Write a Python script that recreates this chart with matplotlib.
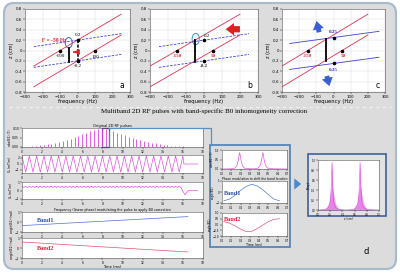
import matplotlib
matplotlib.use("Agg")
import matplotlib.pyplot as plt
import numpy as np
from matplotlib.patches import FancyBboxPatch, Rectangle, Ellipse

W, H = 400, 274

# ---- top panels: frequency vs z ----
panel_letters = ["a", "b", "c"]
red_zero_freqs = [[-100, 100], [-150, 50], [-150, 50]]
red_spans = [[-250, 250], [-300, 200], [-300, 200]]
red_slope = 0.002
blue_z0 = [[0.2, -0.2], [0.2, -0.2], [0.25, -0.25]]
blue_slopes = [0.0005, 0.0005, 0.00045]
blue_spans = [[-250, 250], [-250, 250], [-255, 265]]
blue_styles = ["--", "--", "-"]
bar_freq = [-50, -50, -45]
bar_lo = [-0.22, -0.22, -0.2]
bar_hi = [0.05, 0.2, 0.22]
dots_f = [[-100, 100, 0, 0], [-150, 50, 0, 0], [-150, 50, 0, 0]]
dots_z = [[0, 0, 0.2, -0.2], [0, 0, 0.2, -0.2], [0, 0, 0.25, -0.25]]
label_text = [["-100", "100", "0.2", "-0.2"], ["-150", "50", "0.2", "-0.2"],
              ["-150", "50", "0.25", "0.25"]]
label_f = [[-95, 105, 0, 0], [-150, 52, 18, 0], [-150, 55, 0, 0]]
label_z = [[-0.1, -0.12, 0.29, -0.3], [-0.1, -0.1, 0.28, -0.3],
           [-0.1, -0.1, 0.36, -0.37]]
label_colors = [["black", "black", "black", "black"],
                ["#e02040", "#e02040", "#555555", "#333333"],
                ["#e02040", "#e02040", "#3030c0", "#3030c0"]]
freq_ticks = [-300, -200, -100, 0, 100, 200, 300]
z_ticks = [-0.8, -0.6, -0.4, -0.2, 0, 0.2, 0.4, 0.6, 0.8]

# ---- bottom left: pulse waveforms (time in ms) ----
rf_peaks = [0.004, 0.006, 0.008, 0.011, 0.014, 0.018, 0.022, 0.027, 0.032, 0.038,
            0.044, 0.051, 0.058, 0.066, 0.074, 0.082, 0.089, 0.094, 0.097, 0.094,
            0.089, 0.083, 0.076, 0.069, 0.062, 0.055, 0.049, 0.043, 0.037, 0.032,
            0.027, 0.023, 0.019, 0.015, 0.012, 0.009, 0.007, 0.005, 0.004, 0.003]
gx_turns = [2.7, -2.7] * 22 + [2.7]
gx_tail_t = [16.0, 16.1, 17.5]
gx_tail = [2.7, 0.0, 0.0]
gy_turns = [0.5, 0.36] * 44
gy_tail_t = [15.8, 16.2, 16.55, 17.5]
gy_tail = [0.5, -0.5, 0.0, 0.0]
band_t = [0, 16.5]
band1_phase = [-0.36, 0.54]
band2_phase = [0.6, -0.4]
time_ticks = [0, 2, 4, 6, 8, 10, 12, 14, 16, 18]

# ---- middle box: zoomed pulse ----
mid_x = [0.0, 0.10, 0.14, 0.16, 0.175, 0.185, 0.19, 0.195, 0.205, 0.22, 0.24, 0.30,
         0.35, 0.39, 0.41, 0.425, 0.435, 0.44, 0.445, 0.455, 0.47, 0.49, 0.55, 0.7]
mid_abs = [0.0, 0.01, 0.05, 0.18, 0.45, 0.75, 0.86, 0.75, 0.45, 0.18, 0.05, 0.01,
           0.01, 0.05, 0.18, 0.45, 0.75, 0.86, 0.75, 0.45, 0.18, 0.05, 0.01, 0.0]
mid_t = [0.02, 0.08, 0.14, 0.2, 0.26, 0.32, 0.38, 0.44, 0.5, 0.56, 0.62]
mid_band1 = [-0.8, -0.65, -0.3, 0.15, 0.5, 0.7, 0.55, 0.2, -0.25, -0.65, -0.8]
mid_band2 = [0.25, 0.12, -0.12, -0.4, -0.62, -0.6, -0.35, -0.05, 0.25, 0.45, 0.5]

# ---- right box: excited slice profile ----
right_x = [0.0, 0.12, 0.17, 0.2, 0.215, 0.225, 0.23, 0.235, 0.245, 0.26, 0.29, 0.34,
           0.46, 0.58, 0.63, 0.66, 0.675, 0.685, 0.69, 0.695, 0.705, 0.72, 0.75, 0.8, 1.0]
right_peak = [0, 0.01, 0.05, 0.15, 0.4, 0.75, 0.95, 0.75, 0.4, 0.15, 0.05, 0.01, 0.0,
              0.01, 0.05, 0.15, 0.4, 0.75, 0.95, 0.75, 0.4, 0.15, 0.05, 0.01, 0]
right_base = [0, 0.02, 0.12, 0.3, 0.4, 0.45, 0.47, 0.45, 0.4, 0.3, 0.12, 0.02, 0.0,
              0.02, 0.12, 0.3, 0.4, 0.45, 0.47, 0.45, 0.4, 0.3, 0.12, 0.02, 0]

PINK = "#e040e0"
RED = "#e03050"
BLUE = "#4040c8"
SERIF = "Liberation Serif"


def px_axes(fig, x0, y0, x1, y1, **kw):
    return fig.add_axes([x0 / W, 1 - y1 / H, (x1 - x0) / W, (y1 - y0) / H], **kw)


def small_ticks(ax, size=2.5):
    ax.tick_params(labelsize=size, length=1.2, width=0.3, pad=0.8)
    for s in ax.spines.values():
        s.set_linewidth(0.4)
        s.set_color("#555555")


fig = plt.figure(figsize=(W / 100, H / 100), dpi=100)
fig.patch.set_facecolor("white")

bg = fig.add_axes([0, 0, 1, 1])
bg.set_xlim(0, W)
bg.set_ylim(H, 0)
bg.axis("off")
bg.set_zorder(-1)
bg.add_patch(FancyBboxPatch((4, 3), 392, 266, boxstyle="round,pad=0,rounding_size=10",
                            fc="#dcdcdc", ec="#a9bccd", lw=1.6))
bg.plot([9, 391], [107, 107], ls=(0, (3, 3)), color="#f2f2f2", lw=0.8)
bg.text(204, 111.5, "Multiband 2D RF pulses with band-specific B0 inhomogeneity correction",
        ha="center", va="center", fontsize=5, family=SERIF)
bg.add_patch(Rectangle((210, 145), 80, 102, fc="none", ec="#4a7fb8", lw=1.2))
bg.add_patch(Rectangle((308, 154), 78, 62, fc="#e2e2e2", ec="#3d6299", lw=1.2))
bg.text(366, 252, "d", ha="center", va="center", fontsize=6)

# top panels
top_boxes = [(25, 9, 130, 92), (150, 9, 258, 92), (282, 9, 385, 92)]
for i, box in enumerate(top_boxes):
    ax = px_axes(fig, *box)
    ax.set_xlim(-300, 300)
    ax.set_ylim(-0.8, 0.8)
    ax.set_xticks(freq_ticks)
    ax.set_yticks(z_ticks)
    ax.set_yticklabels([f"{v:g}" for v in z_ticks])
    ax.grid(color="#d8d8d8", lw=0.3)
    small_ticks(ax, 2.8)
    ax.set_xlabel("frequency (Hz)", fontsize=3.8, labelpad=0.5)
    ax.set_ylabel("z (cm)", fontsize=3.5, labelpad=0.5)

    f = np.array(red_spans[i])
    for f0 in red_zero_freqs[i]:
        ax.plot(f, red_slope * (f - f0), color=RED, lw=0.6)
    fb = np.array(blue_spans[i])
    for z0 in blue_z0[i]:
        ax.plot(fb, z0 + blue_slopes[i] * fb, color=BLUE, lw=0.6, ls=blue_styles[i],
                dashes=(3, 1.5) if blue_styles[i] == "--" else (None, None))
    ax.plot([bar_freq[i]] * 2, [bar_lo[i], bar_hi[i]], color="black", lw=1.3)
    ax.scatter(dots_f[i], dots_z[i], s=2.5, color="black", zorder=5)
    for t, fx, zx, c in zip(label_text[i], label_f[i], label_z[i], label_colors[i]):
        ax.text(fx, zx, t, ha="center", va="center", fontsize=3.6, color=c,
                family=SERIF, fontweight="bold" if c != "black" else "normal")
    ax.text(255, -0.68, panel_letters[i], ha="center", va="center", fontsize=5.5)

    if i == 0:
        ax.plot([0, 0], [0.2, -0.2], color="black", lw=1.1, ls=(0, (2, 1)))
        ax.add_patch(Ellipse((-50, 0.15), 40, 0.2, fc="none", ec="#3070c0", lw=0.7))
        ax.text(-135, 0.19, "f' = -50 Hz", ha="center", va="center", fontsize=4,
                color="#e02040", family=SERIF, fontweight="bold")
        ax.annotate("", xy=(-38, -0.03), xytext=(-5, -0.03),
                    arrowprops=dict(arrowstyle="-|>,head_length=0.3,head_width=0.15",
                                    color="#e02020", lw=0.9))
    elif i == 1:
        ax.add_patch(Ellipse((-46, 0.22), 40, 0.22, fc="none", ec="#3a90c0", lw=0.7))
        ax.annotate("", xy=(105, 0.41), xytext=(215, 0.41),
                    arrowprops=dict(arrowstyle="simple,head_length=0.6,head_width=0.9,tail_width=0.45",
                                    color="#e02020", lw=0))
    else:
        ax.annotate("", xy=(-103, 0.62), xytext=(-80, 0.3),
                    arrowprops=dict(arrowstyle="simple,head_length=0.6,head_width=0.8,tail_width=0.35",
                                    color="#3a5fd0", lw=0))
        ax.annotate("", xy=(-20, -0.74), xytext=(-43, -0.44),
                    arrowprops=dict(arrowstyle="simple,head_length=0.6,head_width=0.8,tail_width=0.35",
                                    color="#3a5fd0", lw=0))

# bottom-left waveforms
rows = [(128, 147), (155, 173), (182, 199), (212, 232), (238, 258)]
ylabels = ["abs(B1) (T)", "G$_x$ (mT/m)", "G$_y$ (mT/m)", "angle(B1) (rad)",
           "angle(B1) (rad)"]
wave_axes = []
for (y0, y1), lab in zip(rows, ylabels):
    ax = px_axes(fig, 22, y0, 203, y1)
    ax.set_xlim(0, 18)
    ax.set_xticks(time_ticks)
    small_ticks(ax, 2.2)
    ax.set_ylabel(lab, fontsize=2.2, labelpad=0.5)
    wave_axes.append(ax)

ax = wave_axes[0]
rf_t = np.linspace(1.0, 16.0, len(rf_peaks))
ax.vlines(rf_t, 0, rf_peaks, color=PINK, lw=0.6)
ax.plot([0, 17.5], [0, 0], color=PINK, lw=0.5)
ax.set_ylim(0, 0.1)
ax.set_yticks([0, 0.05, 0.1])
ax.set_title("Original 2D RF pulses", fontsize=2.6, pad=1)
ax.add_patch(Rectangle((7.95, 0.0), 0.7, 0.1, fc="none", ec="#2a4f9a", lw=0.9,
                       clip_on=False))

ax = wave_axes[1]
gx_t = np.linspace(0, 16.0, len(gx_turns))
ax.plot(list(gx_t) + gx_tail_t[1:], gx_turns + gx_tail[1:], color=PINK, lw=0.45)
ax.set_ylim(-3, 3)
ax.set_yticks([-2, 0, 2])

ax = wave_axes[2]
gy_t = np.linspace(0, 15.8, len(gy_turns))
ax.plot(list(gy_t) + gy_tail_t[1:], gy_turns + gy_tail[1:], color=PINK, lw=0.45)
ax.set_ylim(-1, 1)
ax.set_yticks([-1, 0, 1])

ax = wave_axes[3]
ax.plot(band_t, band1_phase, color="#5070d0", lw=0.5)
ax.set_ylim(-1, 1)
ax.set_yticks([-1, 0, 1])
ax.set_title("Frequency (linear phase) modulating the pulse to apply B0 correction",
             fontsize=2.4, pad=0.6)
ax.text(0.08, 0.55, "Band1", transform=ax.transAxes, fontsize=4.5, color="#3050b0",
        family=SERIF, fontweight="bold", va="center")

ax = wave_axes[4]
ax.plot(band_t, band2_phase, color="#e05070", lw=0.5)
ax.set_ylim(-1, 1)
ax.set_yticks([-1, 0, 1])
ax.set_xlabel("Time (ms)", fontsize=2.6, labelpad=0.5)
ax.text(0.08, 0.5, "Band2", transform=ax.transAxes, fontsize=4.5, color="#e02040",
        family=SERIF, fontweight="bold", va="center")

# middle box
m1 = px_axes(fig, 222, 150, 287, 169)
m1.plot(mid_x, mid_abs, color=PINK, lw=0.45)
m1.set_xlim(0, 0.7)
m1.set_ylim(0, 1)
m1.set_ylabel("abs(B1) (T)", fontsize=2, labelpad=0.5)
small_ticks(m1, 2)

m2 = px_axes(fig, 222, 181, 287, 203)
m2.plot(mid_t, mid_band1, color="#5078d0", lw=0.5)
m2.set_xlim(0, 0.7)
m2.set_ylim(-1, 1)
m2.set_ylabel("angle(B1)", fontsize=2, labelpad=0.5)
m2.set_title("Phase modulation to shift the band location", fontsize=2.2, pad=0.6)
m2.text(0.03, 0.45, "Band1", transform=m2.transAxes, fontsize=4.5, color="#3050b0",
        family=SERIF, fontweight="bold", va="center")
small_ticks(m2, 2)

m3 = px_axes(fig, 222, 213, 287, 236)
m3.plot(mid_t, mid_band2, color="#e05878", lw=0.5)
m3.set_xlim(0, 0.7)
m3.set_ylim(-1, 1)
m3.set_ylabel("angle(B1)", fontsize=2, labelpad=0.5)
m3.set_xlabel("Time (ms)", fontsize=2.3, labelpad=0.5)
m3.text(0.03, 0.72, "Band2", transform=m3.transAxes, fontsize=4.5, color="#e02040",
        family=SERIF, fontweight="bold", va="center")
small_ticks(m3, 2)

# right box
r = px_axes(fig, 318, 160, 379, 210)
r.fill_between(right_x, right_peak, color="#f2a6f2", lw=0)
r.fill_between(right_x, right_base, color="#e070e0", alpha=0.6, lw=0)
r.plot(right_x, right_peak, color=PINK, lw=0.4)
r.set_xlim(0, 1)
r.set_ylim(0, 1)
r.set_ylabel("|Mxy|", fontsize=2, labelpad=0.5)
r.set_xlabel("z (cm)", fontsize=2, labelpad=0.5)
small_ticks(r, 1.8)

# overlay: connector and arrow
ov = fig.add_axes([0, 0, 1, 1])
ov.set_xlim(0, W)
ov.set_ylim(H, 0)
ov.axis("off")
ov.patch.set_alpha(0)
ov.plot([109, 211, 211], [128, 128, 145], color="#5a8fc8", lw=0.9)
ov.annotate("", xy=(304, 184), xytext=(292, 184),
            arrowprops=dict(arrowstyle="simple,head_length=0.5,head_width=0.8,tail_width=0.45",
                            color="#4a8ad0", lw=0))

fig.savefig("out.png", dpi=100, facecolor=fig.get_facecolor())
